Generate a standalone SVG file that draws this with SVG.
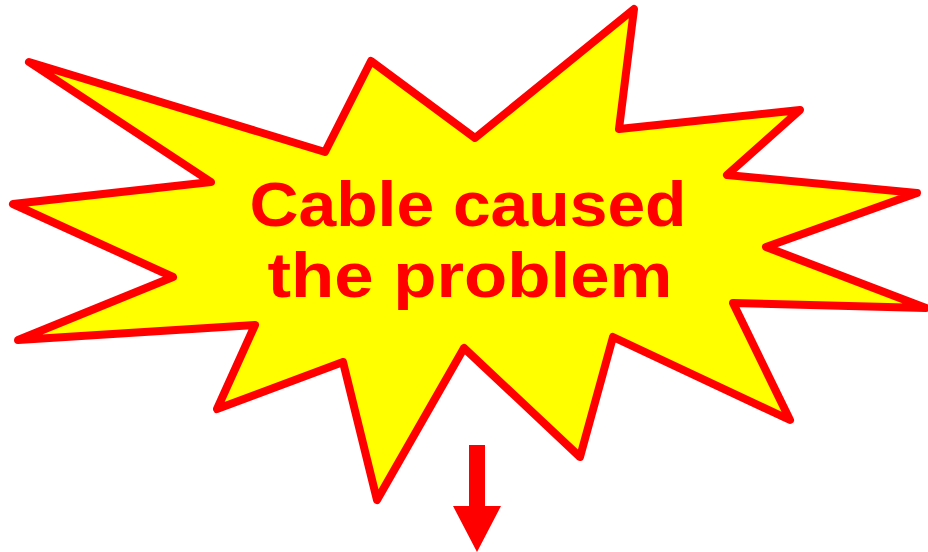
<svg xmlns="http://www.w3.org/2000/svg" width="928" height="552" viewBox="0 0 928 552">
<style>
.burst{fill:#ffff00;stroke:#ff0000;stroke-width:8;stroke-linejoin:round}
.lbl{font-family:"Liberation Sans",Arial,sans-serif;font-weight:bold;font-size:63px;fill:#ff0000;text-anchor:middle}
.arr{fill:#ff0000}
</style>
<rect width="928" height="552" fill="#ffffff"/>
<g id="burst">
<polygon class="burst" points="29,62 325,152 371,61 475,138 634,9 619,129 800,110 727,175 917,193 766,247 926,308 733,303 790,420 613,337 580,457 464,348 377,500 343,362 217,409 255,325 18,340 173,277 13,204 211,182"/>
<text class="lbl" x="468" y="226" textLength="437" lengthAdjust="spacingAndGlyphs">Cable caused</text>
<text class="lbl" x="470" y="297" textLength="405" lengthAdjust="spacingAndGlyphs">the problem</text>
</g>
<g id="connectors">
<polygon class="arr" points="469,445 485,445 485,506 501,506 477,552 453,506 469,506"/>
</g>
</svg>
